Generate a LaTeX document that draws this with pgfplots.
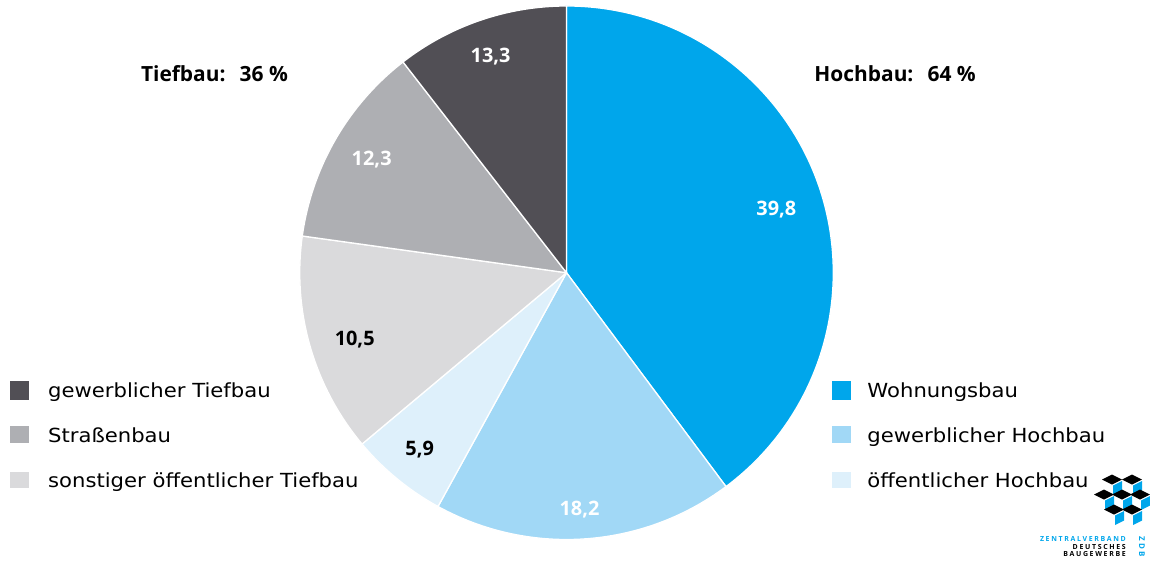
\documentclass[border=0pt]{standalone}
\usepackage{pgfplots}
\pgfplotsset{compat=1.18}
\usepackage{fontspec}
\setmainfont{Open Sans}
\newfontfamily\legfont[FakeStretch=1.09]{DejaVu Sans}
\newfontfamily\logofont[LetterSpace=24]{Open Sans}
\definecolor{cW}{RGB}{0,166,235}
\definecolor{cGH}{RGB}{161,216,246}
\definecolor{cOH}{RGB}{222,240,251}
\definecolor{cSOT}{RGB}{218,218,220}
\definecolor{cS}{RGB}{174,175,179}
\definecolor{cGT}{RGB}{81,79,85}
% sector: colour, cumulative share before, share (percent)
\newcommand\sector[3]{%
  \filldraw[fill=#1, draw=white, line width=1.3bp, line join=round]
    (axis cs:0,0) -- ++({90-3.6*#2}:267bp)
    arc[start angle={90-3.6*#2}, delta angle={-3.6*#3}, radius=267bp] -- cycle;}
\newcommand\cube[2]{%
  \fill[black] (#1-10,#2) -- (#1,#2+5) -- (#1+10,#2) -- (#1,#2-5) -- cycle;
  \fill[cW] (#1+1,#2-6) -- (#1+10,#2-1.5) -- (#1+10,#2-11) -- (#1+1,#2-15.5) -- cycle;}
\begin{document}
\begin{tikzpicture}[x=1bp,y=1bp]
\path (0,0) rectangle (1150,574);
\begin{axis}[at={(567bp,301bp)}, anchor=center, scale only axis,
  width=534bp, height=534bp, xmin=-1, xmax=1, ymin=-1, ymax=1,
  hide axis, clip=false]
% sector sizes as drawn in the reference (clockwise from top):
% Wohnungsbau 39.8, gewerblicher Hochbau 18.2, oeffentlicher Hochbau 5.9,
% sonstiger oeffentlicher Tiefbau 13.3 (drawn), Strassenbau 12.3, gewerblicher Tiefbau 10.5 (drawn)
\sector{cW}{0}{39.8}
\sector{cGH}{39.8}{18.2}
\sector{cOH}{58.0}{5.9}
\sector{cSOT}{63.9}{13.3}
\sector{cS}{77.2}{12.3}
\sector{cGT}{89.5}{10.5}
\end{axis}
% value labels
\begin{scope}[font=\fontsize{20}{23}\selectfont\bfseries]
\node[white] at (491,517) {13,3};
\node[white] at (372,414) {12,3};
\node[white] at (777,364) {39,8};
\node[black] at (355,234) {10,5};
\node[black] at (420,124) {5,9};
\node[white] at (580,64) {18,2};
\end{scope}
% group titles
\node[anchor=base west, inner xsep=0pt, font=\fontsize{21}{24}\selectfont\bfseries] at (141,492.5) {Tiefbau:\,\, 36 \%};
\node[anchor=base west, inner xsep=0pt, font=\fontsize{21}{24}\selectfont\bfseries] at (815,492.5) {Hochbau:\,\, 64 \%};
% legends
\begin{scope}[font=\legfont\fontsize{19.5}{23}\selectfont]
\fill[cGT] (10,174) rectangle (29,193);
\fill[cS] (10,131) rectangle (29,148);
\fill[cSOT] (10,86) rectangle (29,102);
\node[anchor=base west, inner xsep=0pt] at (48,176) {gewerblicher Tiefbau};
\node[anchor=base west, inner xsep=0pt] at (48,131) {Straßenbau};
\node[anchor=base west, inner xsep=0pt] at (48,86) {sonstiger öffentlicher Tiefbau};
\fill[cW] (833,174) rectangle (852,193);
\fill[cGH] (833,131) rectangle (852,148);
\fill[cOH] (833,86) rectangle (852,102);
\node[anchor=base west, inner xsep=0pt] at (868,176) {Wohnungsbau};
\node[anchor=base west, inner xsep=0pt] at (868,131) {gewerblicher Hochbau};
\node[anchor=base west, inner xsep=0pt] at (868,86) {öffentlicher Hochbau};
\end{scope}
% logo
\cube{1113}{94}
\cube{1133}{94}
\cube{1105}{79}
\cube{1123}{79}
\cube{1141}{79}
\cube{1115}{64}
\cube{1133}{64}
\begin{scope}[font=\logofont\fontsize{7}{8}\selectfont\bfseries, inner sep=0pt]
\node[anchor=base east, cW] at (1127,32) {ZENTRALVERBAND};
\node[anchor=base east] at (1127,24.5) {DEUTSCHES};
\node[anchor=base east] at (1127,17) {BAUGEWERBE};
\node[anchor=center, rotate=-90, cW, font=\fontsize{8}{9}\selectfont\bfseries] at (1143,27) {Z D B};
\end{scope}
\end{tikzpicture}
\end{document}
